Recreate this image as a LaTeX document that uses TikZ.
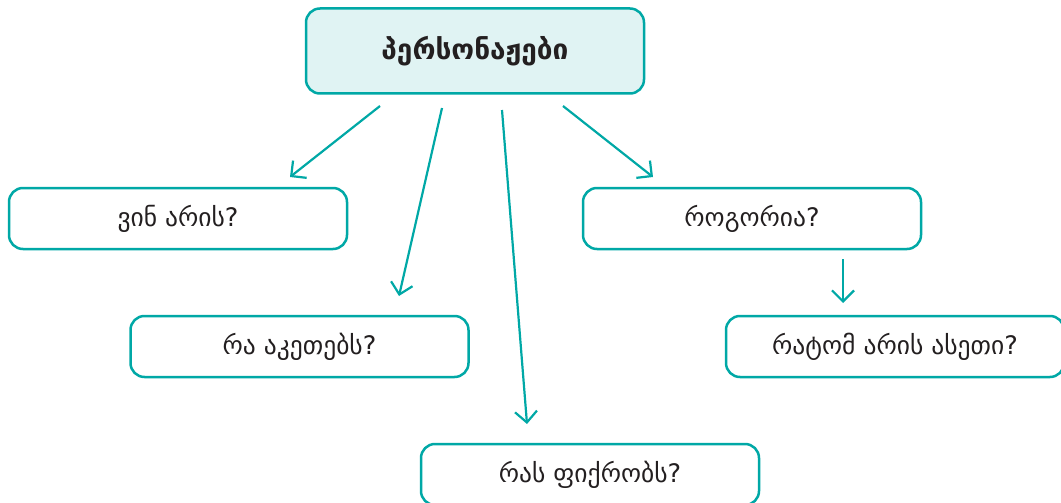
\documentclass[tikz,border=0pt]{standalone}
\usepackage{fontspec}
\newfontfamily\geofont{DejaVu Sans}
\usetikzlibrary{arrows.meta}
\definecolor{tealline}{RGB}{0,168,166}
\definecolor{tealfill}{RGB}{224,243,243}
\definecolor{inktext}{RGB}{35,31,32}
\tikzset{
  qbox/.style={draw=tealline,line width=2.5pt,rounded corners=14pt,
    minimum width=338pt,minimum height=61pt,text=inktext,
    font=\geofont\fontsize{25.5}{30}\selectfont},
  topbox/.style={qbox,fill=tealfill,minimum height=85pt,
    font=\geofont\bfseries\fontsize{28}{32}\selectfont},
  arr/.style={tealline,line width=2.2pt,
    -{Straight Barb[length=11pt,width=22pt,line width=2.2pt]}}
}
\begin{document}
\begin{tikzpicture}[x=1pt,y=-1pt]
  \useasboundingbox (0,0) rectangle (1061,503);
  % boxes
  \node[topbox] (chars) at (475,51) {პერსონაჟები};
  \node[qbox] (who) at (178,218.5) {ვინ არის?};
  \node[qbox] (what) at (299.5,346.5) {რა აკეთებს?};
  \node[qbox] (think) at (590,474.5) {რას ფიქრობს?};
  \node[qbox] (how) at (752,218.5) {როგორია?};
  \node[qbox] (why) at (895,346.5) {რატომ არის ასეთი?};
  % arrow ends
  \coordinate (s1) at (380,106); \coordinate (e1) at (290,177);
  \coordinate (s2) at (442,108); \coordinate (e2) at (399,296);
  \coordinate (s3) at (502,110); \coordinate (e3) at (527,424);
  \coordinate (s4) at (563,106); \coordinate (e4) at (653,177);
  \coordinate (s5) at (843,259); \coordinate (e5) at (843,303);
  % arrows
  \draw[arr] (s1) -- (e1);
  \draw[arr] (s2) -- (e2);
  \draw[arr] (s3) -- (e3);
  \draw[arr] (s4) -- (e4);
  \draw[arr] (s5) -- (e5);
\end{tikzpicture}
\end{document}
